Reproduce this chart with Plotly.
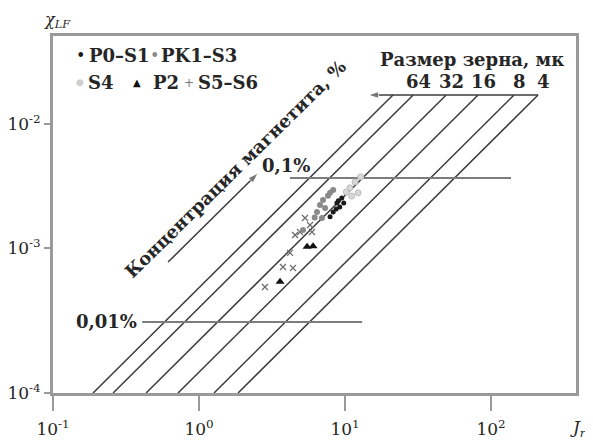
import math
import plotly.graph_objects as go

# ---------------- data ----------------
series_names = ["P0–S1", "PK1–S3", "S4", "P2", "S5–S6"]

p0s1_jr = [9.5, 8.8, 9.2, 8.3, 7.9, 9.8, 8.7, 9.0]
p0s1_chi = [2.21e-3, 2.04e-3, 1.92e-3, 1.77e-3, 1.64e-3, 2.04e-3, 1.86e-3, 2.12e-3]

pk1s3_jr = [7.07, 6.74, 7.3, 6.43, 6.95, 7.65, 8.3, 5.16, 7.9, 6.2]
pk1s3_chi = [2.14e-3, 1.98e-3, 1.89e-3, 1.77e-3, 1.61e-3, 2.29e-3, 2.51e-3, 1.33e-3, 2.4e-3, 1.62e-3]

s4_jr = [11.7, 10.8, 12.3, 11.1, 10.2, 12.8]
s4_chi = [2.85e-3, 2.6e-3, 2.4e-3, 2.28e-3, 2.43e-3, 3.1e-3]

p2_jr = [5.5, 6.04, 3.59]
p2_chi = [1.02e-3, 1.03e-3, 5.84e-4]

s56_jr = [5.32, 5.76, 4.92, 4.55, 5.94, 4.2, 4.4, 3.76, 2.83]
s56_chi = [1.61e-3, 1.44e-3, 1.29e-3, 1.23e-3, 1.29e-3, 9.25e-4, 7.28e-4, 7.4e-4, 5.38e-4]

# grain-size lines (slope 1 in log-log)
grain_jr_low = [0.188, 0.258, 0.434, 0.718, 1.267, 1.85]
grain_jr_high = [21.3, 29.3, 49.3, 81.5, 143.8, 210.0]
grain_chi_low = 1e-4
grain_chi_high = 0.01135
grain_labels = ["", "64", "32", "16", "8", "4"]
grain_title = "Размер зерна, мк"
grain_arrow_jr = [210.0, 14.4]

# magnetite concentration lines
conc_labels = ["0,1%", "0,01%"]
conc_chi = [3.04e-3, 3.09e-4]
conc_jr_start = [4.2, 0.408]
conc_jr_end = [137.0, 13.1]
conc_title = "Концентрация магнетита, %"
conc_arrow_jr = [0.614, 2.54]
conc_arrow_chi = [8.0e-4, 3.29e-3]

# axes ticks
x_tickvals = [0.1, 1, 10, 100]
x_ticktext = ["10<sup>-1</sup>", "10<sup>0</sup>", "10<sup>1</sup>", "10<sup>2</sup>"]
y_tickvals = [1e-4, 1e-3, 7.16e-3]
y_ticktext = ["10<sup>-4</sup>", "10<sup>-3</sup>", "10<sup>-2</sup>"]
x_title = "<i>J</i><sub><i>r</i></sub>"
y_title = "<i>χ</i><sub><i>LF</i></sub>"

# ---------------- styling ----------------
FONT = "DejaVu Serif"
TXT = "#262626"
FRAME = "#9a9a9a"
LINE_DARK = "#3c3c3c"
LINE_GRAY = "#7c7c7c"
BSIZE = 18

# the page body keeps an 8px margin, so the figure is drawn 8px in from the window corner
OFF = 8
W, H = 593 - OFF, 442 - OFF
# plot area in window pixels
SL, SR, ST, SB = 53, 576, 36, 393


def pxp(x):
    return (x - SL) / (SR - SL)


def pyp(y):
    return (SB - y) / (SB - ST)


fig = go.Figure()

# grain-size lines
for lo, hi in zip(grain_jr_low, grain_jr_high):
    fig.add_trace(go.Scatter(x=[lo, hi], y=[grain_chi_low, grain_chi_high], mode="lines",
                             line=dict(color=LINE_DARK, width=1.5), hoverinfo="skip",
                             showlegend=False))
# horizontal arrow over the tops (towards larger grains)
fig.add_trace(go.Scatter(x=grain_arrow_jr, y=[grain_chi_high, grain_chi_high], mode="lines+markers",
                         line=dict(color=LINE_DARK, width=1.5),
                         marker=dict(symbol="arrow", size=[0, 11], angleref="previous", color=LINE_DARK),
                         hoverinfo="skip", showlegend=False))

# concentration lines
for c, s, e in zip(conc_chi, conc_jr_start, conc_jr_end):
    fig.add_trace(go.Scatter(x=[s, e], y=[c, c], mode="lines",
                             line=dict(color=LINE_GRAY, width=2), hoverinfo="skip",
                             showlegend=False))
# concentration arrow
fig.add_trace(go.Scatter(x=conc_arrow_jr, y=conc_arrow_chi, mode="lines+markers",
                         line=dict(color=LINE_DARK, width=1.5),
                         marker=dict(symbol="arrow", size=[0, 11], angleref="previous", color=LINE_DARK),
                         hoverinfo="skip", showlegend=False))

# data points
fig.add_trace(go.Scatter(x=s56_jr, y=s56_chi, mode="markers", name=series_names[4],
                         marker=dict(symbol="x-thin", size=6, line=dict(color="#6a6a6a", width=1.2)),
                         showlegend=False))
fig.add_trace(go.Scatter(x=pk1s3_jr, y=pk1s3_chi, mode="markers", name=series_names[1],
                         marker=dict(symbol="circle", size=6, color="#8a8a8a"), showlegend=False))
fig.add_trace(go.Scatter(x=s4_jr, y=s4_chi, mode="markers", name=series_names[2],
                         marker=dict(symbol="circle", size=6, color="#d8d8d8",
                                     line=dict(color="#bdbdbd", width=1)), showlegend=False))
fig.add_trace(go.Scatter(x=p0s1_jr, y=p0s1_chi, mode="markers", name=series_names[0],
                         marker=dict(symbol="circle", size=5, color="#1a1a1a"), showlegend=False))
fig.add_trace(go.Scatter(x=p2_jr, y=p2_chi, mode="markers", name=series_names[3],
                         marker=dict(symbol="triangle-up", size=8, color="#111111"), showlegend=False))

ann = []
bold = dict(family=FONT, size=BSIZE, color=TXT)

# axis titles
ann.append(dict(text=y_title, xref="paper", yref="paper", x=pxp(42), y=pyp(21),
                xanchor="left", yanchor="middle", showarrow=False, font=dict(family=FONT, size=16, color=TXT)))
ann.append(dict(text=x_title, xref="paper", yref="paper", x=pxp(578), y=pyp(428),
                xanchor="center", yanchor="middle", showarrow=False, font=dict(family=FONT, size=17, color=TXT)))

# grain-size title and labels
ann.append(dict(text="<b>" + grain_title + "</b>", xref="paper", yref="paper", x=pxp(566), y=pyp(60),
                xanchor="right", yanchor="middle", showarrow=False, font=bold))
for jr, lab in zip(grain_jr_high, grain_labels):
    if lab:
        ann.append(dict(text="<b>" + lab + "</b>", x=math.log10(jr), y=math.log10(grain_chi_high),
                        xanchor="center", yanchor="bottom", xshift=5, yshift=1, showarrow=False, font=bold))

# concentration labels and rotated title
ann.append(dict(text="<b>" + conc_labels[0] + "</b>", x=math.log10(conc_jr_start[0]), y=math.log10(conc_chi[0]),
                xanchor="right", yanchor="bottom", xshift=22, yshift=0, showarrow=False, font=bold))
ann.append(dict(text="<b>" + conc_labels[1] + "</b>", x=math.log10(conc_jr_start[1]), y=math.log10(conc_chi[1]),
                xanchor="right", yanchor="middle", xshift=-3, showarrow=False, font=bold))
ann.append(dict(text="<b>" + conc_title + "</b>", x=0.253, y=-2.455, textangle=-44.5,
                xanchor="center", yanchor="middle", showarrow=False, font=bold))

# legend (drawn as text)
leg = [
    ("•", 80, 55, "#1a1a1a", 16, "center"),
    ("<b>" + series_names[0] + "</b>", 87, 55, TXT, BSIZE, "left"),
    ("•", 154, 55, "#8a8a8a", 16, "center"),
    ("<b>" + series_names[1] + "</b>", 159, 55, TXT, BSIZE, "left"),
    ("●", 80, 82, "#cfcfcf", 9, "center"),
    ("<b>" + series_names[2] + "</b>", 86, 82, TXT, BSIZE, "left"),
    ("▲", 137, 82, "#111111", 10, "center"),
    ("<b>" + series_names[3] + "</b>", 151, 82, TXT, BSIZE, "left"),
    ("+", 189, 83, "#777777", 12, "center"),
    ("<b>" + series_names[4] + "</b>", 196, 82, TXT, BSIZE, "left"),
]
for t, x, y, col, sz, anc in leg:
    ann.append(dict(text=t, xref="paper", yref="paper", x=pxp(x), y=pyp(y), xanchor=anc,
                    yanchor="middle", showarrow=False, font=dict(family=FONT, size=sz, color=col)))

fig.update_layout(
    width=W, height=H,
    margin=dict(l=SL - OFF, r=W - (SR - OFF), t=ST - OFF, b=H - (SB - OFF), autoexpand=False),
    paper_bgcolor="white", plot_bgcolor="white",
    showlegend=False,
    annotations=ann,
    font=dict(family=FONT, color=TXT),
)
fig.update_xaxes(type="log", range=[-1, 2.582], tickvals=x_tickvals, ticktext=x_ticktext,
                 ticks="outside", ticklen=15, tickwidth=2, tickcolor=FRAME,
                 showline=True, mirror=True, linecolor=FRAME, linewidth=3,
                 showgrid=False, zeroline=False, automargin=False, ticklabelstandoff=4,
                 tickfont=dict(family=FONT, size=17, color=TXT))
fig.update_yaxes(type="log", range=[-4, -1.538], tickvals=y_tickvals, ticktext=y_ticktext,
                 ticks="outside", ticklen=6, tickwidth=2, tickcolor=FRAME,
                 showline=True, mirror=True, linecolor=FRAME, linewidth=3,
                 showgrid=False, zeroline=False, automargin=False,
                 tickfont=dict(family=FONT, size=17, color=TXT))

fig.write_html("out.html")
